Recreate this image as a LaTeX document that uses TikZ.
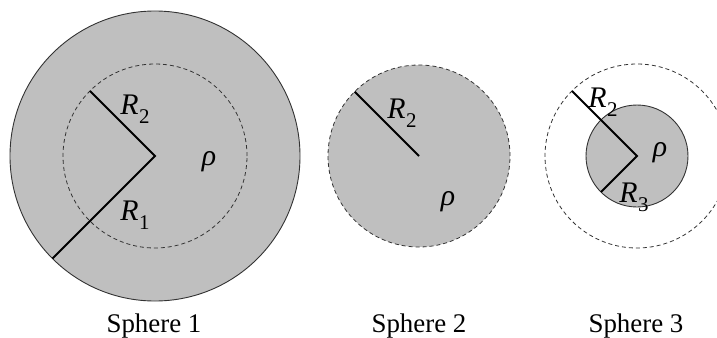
\documentclass[tikz,border=0pt]{standalone}
\usepackage{fontspec}
\setmainfont{Liberation Serif}
\newcommand{\Rsub}[1]{\textit{R}\kern0.5pt\raisebox{-0.3em}{\fontsize{21}{21}\selectfont #1}}
\tikzset{
    shell/.style={fill=black!25, draw=black!80, line width=0.9pt},
    dashring/.style={draw=black!80, dashed, dash pattern=on 4pt off 3pt, line width=0.8pt},
    radline/.style={line width=1.8pt},
    lbl/.style={inner sep=0pt, font=\fontsize{30}{34}\selectfont},
    caption/.style={inner sep=0pt, anchor=base, font=\fontsize{27}{31}\selectfont}
}
\begin{document}
\begin{tikzpicture}[x=1bp, y=1bp]
    \useasboundingbox (0,0) rectangle (717,337);
    % centres
    \coordinate (c1) at (155,181);
    \coordinate (c2) at (419,181);
    \coordinate (c3) at (637,181);
    % sphere 1
    \draw[shell] (c1) circle[radius=145];
    \draw[dashring] (c1) circle[radius=92];
    \coordinate (p1a) at ([shift={(135:92)}]c1);
    \coordinate (p1b) at ([shift={(225:145)}]c1);
    \draw[radline] (p1a) -- (c1) -- (p1b);
    \node[lbl] (r2a) at (135,228) {\Rsub{2}};
    \node[lbl] (r1a) at (135,122) {\Rsub{1}};
    \node[lbl] (rho1) at (209,175) {\textit{ρ}};
    % sphere 2
    \fill[black!25] (c2) circle[radius=91];
    \draw[dashring] (c2) circle[radius=91];
    \coordinate (p2a) at ([shift={(135:91)}]c2);
    \draw[radline] (p2a) -- (c2);
    \node[lbl] (r2b) at (402,224) {\Rsub{2}};
    \node[lbl] (rho2) at (448,135) {\textit{ρ}};
    % sphere 3
    \draw[dashring] (c3) circle[radius=92];
    \draw[shell] (c3) circle[radius=51];
    \coordinate (p3a) at ([shift={(135:92)}]c3);
    \coordinate (p3b) at ([shift={(225:51)}]c3);
    \draw[radline] (p3a) -- (c3) -- (p3b);
    \node[lbl] (r2c) at (603,235) {\Rsub{2}};
    \node[lbl] (r3c) at (634,140) {\Rsub{3}};
    \node[lbl] (rho3) at (660,184) {\textit{ρ}};
    % names
    \node[caption] (s1) at (154,5) {Sphere 1};
    \node[caption] (s2) at (419,5) {Sphere 2};
    \node[caption] (s3) at (636,5) {Sphere 3};
\end{tikzpicture}
\end{document}
